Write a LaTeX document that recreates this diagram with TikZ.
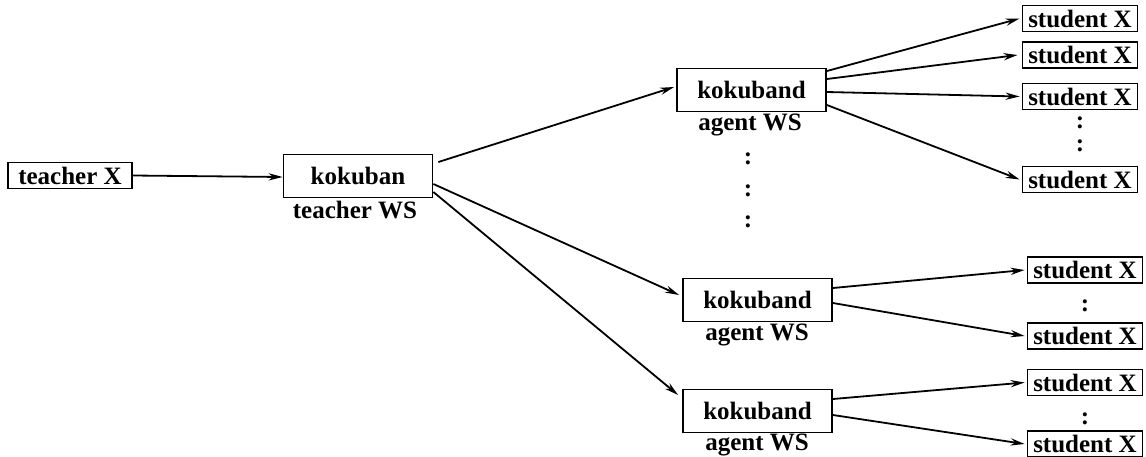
\documentclass[tikz,border=0pt]{standalone}
\usepackage{fontspec}
\setmainfont{Liberation Serif}
\usetikzlibrary{arrows.meta}
\begin{document}
\begin{tikzpicture}[x=0.5pt,y=-0.5pt,
  lbl/.style={font=\fontsize{12.5}{14}\selectfont\bfseries, inner sep=0pt},
  box/.style={lbl, draw, line width=0.9pt, minimum height=13pt},
  bigbox/.style={lbl, draw, line width=0.9pt, minimum width=74.5pt, minimum height=21.5pt},
  stud/.style={box, minimum width=57.5pt, minimum height=13pt},
  arr/.style={line width=0.9pt, -{Stealth[length=7pt,width=3.6pt]}},
  dots/.style={lbl}]
\useasboundingbox (0,0) rectangle (1146,456);
% teacher side
\node[box, minimum width=62pt] (tx) at (70,175.5) {teacher X};
\node[bigbox] (kb) at (358,176) {kokuban};
\node[lbl] (kbl) at (355,210) {teacher WS};
% agents
\node[bigbox] (a1) at (751.5,90) {kokuband};
\node[lbl] (a1l) at (750,125) {agent WS};
\node[bigbox] (a2) at (757.5,300) {kokuband};
\node[lbl] (a2l) at (757,335) {agent WS};
\node[bigbox] (a3) at (757.5,411) {kokuband};
\node[lbl] (a3l) at (757,445) {agent WS};
\node[dots] (d1) at (748,159) {:};
\node[dots] (d2) at (748,191) {:};
\node[dots] (d3) at (748,222) {:};
% students top
\node[stud] (s1) at (1080,18.5) {student X};
\node[stud] (s2) at (1080,55) {student X};
\node[stud] (s3) at (1080,96.5) {student X};
\node[dots] (sd1) at (1080,123) {:};
\node[dots] (sd2) at (1080,146) {:};
\node[stud] (s4) at (1080,179.5) {student X};
% students lower
\node[stud] (s5) at (1085,270) {student X};
\node[dots] (sd3) at (1085,306) {:};
\node[stud] (s6) at (1085,336) {student X};
\node[stud] (s7) at (1085,382.5) {student X};
\node[dots] (sd4) at (1085,419) {:};
\node[stud] (s8) at (1085,444) {student X};
% connectors
\draw[arr] (tx.east) -- ([yshift=-0.5pt]kb.west);
\draw[arr] ([xshift=2.5pt,yshift=7pt]kb.east) -- ([xshift=-1pt,yshift=1.5pt]a1.west);
\draw[arr] ([yshift=-4pt]kb.east) -- ([xshift=-1.5pt,yshift=2.5pt]a2.west);
\draw[arr] ([yshift=-8pt]kb.east) -- ([xshift=-2pt,yshift=8pt]a3.west);
\draw[arr] ([yshift=9.5pt]a1.east) -- ([xshift=-1pt]s1.west);
\draw[arr] ([yshift=5.5pt]a1.east) -- ([xshift=-2pt]s2.west);
\draw[arr] ([yshift=-1pt]a1.east) -- ([xshift=-1pt]s3.west);
\draw[arr] ([yshift=-7.5pt]a1.east) -- ([xshift=-1pt]s4.west);
\draw[arr] ([yshift=6pt]a2.east) -- ([xshift=-1pt]s5.west);
\draw[arr] ([yshift=-1.5pt]a2.east) -- ([xshift=-1pt]s6.west);
\draw[arr] ([yshift=6pt]a3.east) -- ([xshift=-1pt]s7.west);
\draw[arr] ([yshift=-2pt]a3.east) -- ([xshift=-1pt]s8.west);
\end{tikzpicture}
\end{document}
